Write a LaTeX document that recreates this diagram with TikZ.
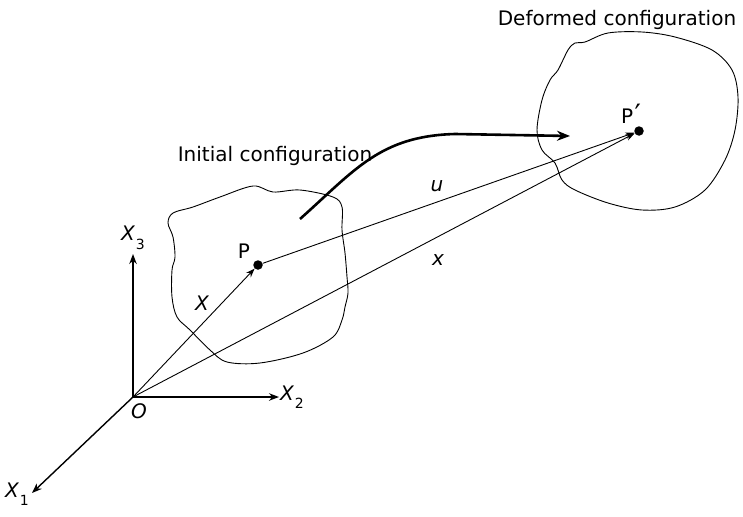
\documentclass[tikz,border=0pt]{standalone}
\usepackage{fontspec}
\setmainfont{DejaVu Sans}
\usetikzlibrary{arrows.meta}
\newcommand\axsub[1]{\kern1pt\raisebox{-0.42em}{\fontsize{14}{16}\selectfont\upshape #1}}
\begin{document}
\begin{tikzpicture}[x=1pt,y=-1pt,
  vec/.style={line width=0.9pt,-{Stealth[length=9pt,width=6.5pt]}},
  axis/.style={line width=1.4pt,-{Stealth[length=10pt,width=7.5pt]}},
  dot/.style={circle,fill=black,inner sep=0pt,minimum size=9.5pt},
  lab/.style={font=\fontsize{20}{22}\selectfont,inner sep=0pt},
  ilab/.style={font=\fontsize{20}{22}\selectfont\itshape,inner sep=0pt},
  blob/.style={line width=0.9pt}]
\useasboundingbox (0,0) rectangle (743,516);
% bodies
\draw[blob] plot[smooth cycle,tension=0.55] coordinates {(168,223) (173,213) (193,207) (220,197) (253,186) (273,192) (300,190) (333,197) (342,207) (342,230) (345,253) (347,277) (348,293) (345,307) (342,320) (333,337) (303,353) (260,363) (227,362) (210,350) (190,330) (177,317) (172,297) (172,270) (175,257) (173,237)};
\draw[blob] plot[smooth cycle,tension=0.55] coordinates {(575,43) (585,42) (608,33) (642,32) (675,37) (712,50) (732,70) (738,97) (735,130) (725,160) (705,190) (675,207) (642,210) (608,203) (575,190) (562,180) (555,163) (542,150) (537,130) (542,100) (550,80) (558,70) (568,50)};
% points
\coordinate (O) at (133,397);
\node[dot] (P) at (258,265) {};
\node[dot] (Pp) at (639,131) {};
\coordinate (X3e) at (133,254);
\coordinate (X2e) at (279,397);
\coordinate (X1e) at (32,493);
% axes
\draw[axis] (O) -- (X3e);
\draw[axis] (O) -- (X2e);
\draw[axis] (O) -- (X1e);
% vectors
\draw[vec] (O) -- (P);
\draw[vec] (O) -- (Pp);
\draw[vec] (P) -- (Pp);
% displacement path
\coordinate (cs) at (300,219);
\coordinate (ce) at (570,136);
\draw[line width=2.6pt,-{Stealth[length=13pt,width=10pt]}] (cs) .. controls (355,170) and (380,136) .. (455,134) -- (ce);
% labels
\node[lab] (tInit) at (275,156) {Initial configuration};
\node[lab] (tDef) at (617,20) {Deformed configuration};
\node[lab] (tP) at (244,251) {P};
\node[lab] (tPp) at (631,114) {P\kern1.5pt\raisebox{-0.05em}{\fontsize{28}{30}\selectfont\char"2032}};
\node[ilab] (tX) at (202,303) {X};
\node[ilab] (tu) at (437,186) {u};
\node[ilab] (tx) at (438,260) {x};
\node[ilab] (tO) at (139,411) {O};
\node[ilab,anchor=west] (tX3) at (121,238) {X\axsub{3}};
\node[ilab,anchor=west] (tX2) at (280,397) {X\axsub{2}};
\node[ilab,anchor=west] (tX1) at (5,494) {X\axsub{1}};
\end{tikzpicture}
\end{document}
